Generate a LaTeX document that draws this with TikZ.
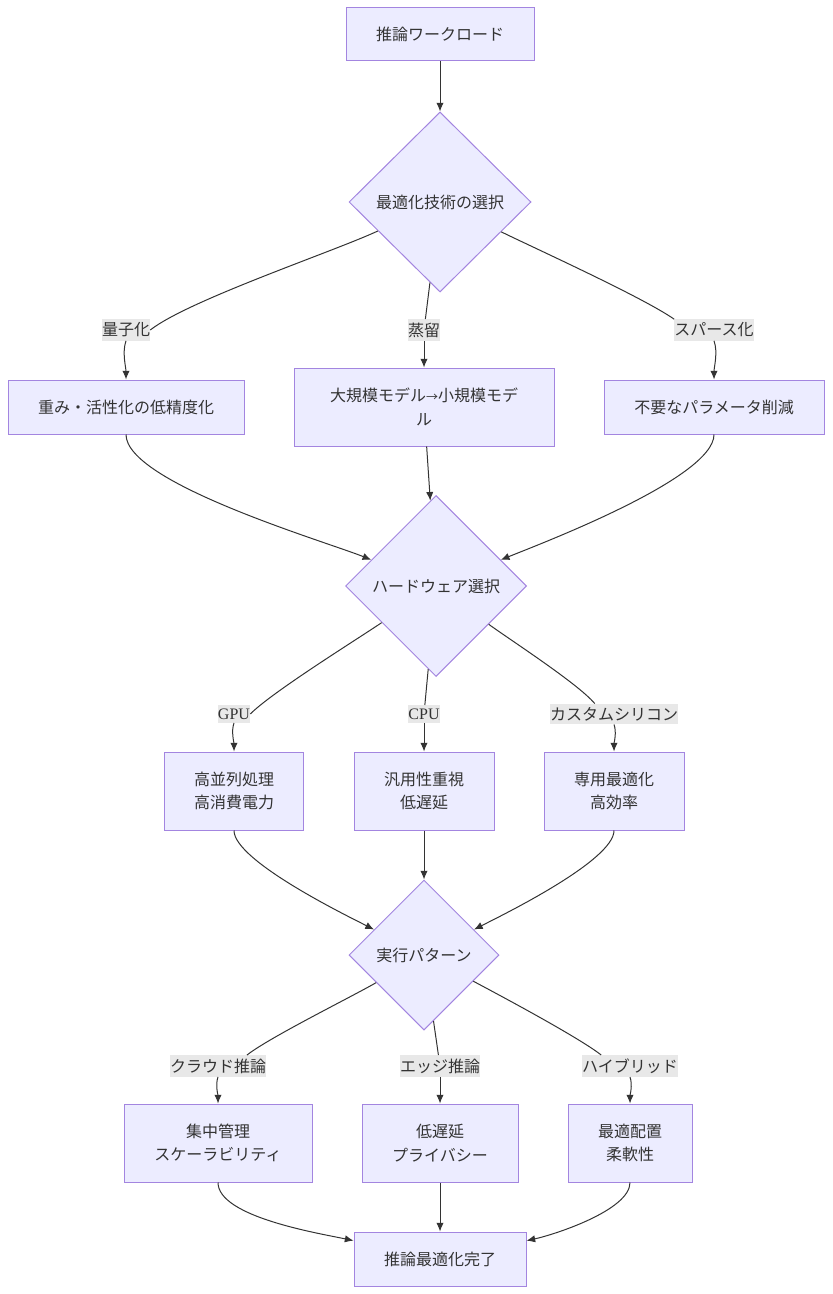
\documentclass[tikz,border=0pt]{standalone}
\usepackage{fontspec}
\setmainfont{Noto Sans CJK JP}
\newfontfamily\latinfont{Liberation Serif}
\usepackage{tikz}
\usetikzlibrary{shapes,shapes.geometric,arrows,arrows.meta,positioning,calc}
\definecolor{mmfill}{HTML}{ECECFF}
\definecolor{mmborder}{HTML}{9370DB}
\definecolor{mmtext}{HTML}{333333}
\definecolor{mmlabel}{HTML}{E8E8E8}
\tikzstyle{block} = [draw=mmborder!85, line width=0.75pt, fill=mmfill, rectangle, inner sep=0pt, minimum height=40.5pt, align=center, text=mmtext, font=\fontsize{12}{17.5}\selectfont]
\tikzstyle{decision} = [draw=mmborder!85, line width=0.75pt, fill=mmfill, diamond, aspect=1, inner sep=0pt, text=mmtext, font=\fontsize{12}{17.5}\selectfont]
\tikzstyle{edgelabel} = [fill=mmlabel, inner xsep=0pt, inner ysep=2.5pt, text=mmtext, font=\fontsize{12}{14}\selectfont]
\tikzstyle{wire} = [draw=mmtext, line width=0.75pt, looseness=0.5, -{Latex[length=6.5pt,width=5.5pt]}]

\begin{document}
\begin{tikzpicture}[x=0.75pt, y=-0.75pt]
    \useasboundingbox (0,0) rectangle (832,1294);
    % Nodes
    \node [block, minimum width=141pt, minimum height=39.75pt] (start) at (440,34.5) {推論ワークロード};
    \node [decision, minimum width=136.5pt, minimum height=135pt] (sel) at (440,202) {最適化技術の選択};
    \node [block, minimum width=195pt, minimum height=58.5pt] (dbox) at (424,407) {大規模モデル{\fontsize{9}{9}\selectfont→}小規模モデ\\ル};
    \node [block, minimum width=177pt, left of=dbox, node distance=223.5pt] (qbox) {重み・活性化の低精度化};
    \node [block, minimum width=165pt, right of=dbox, node distance=217.5pt] (sbox) {不要なパラメータ削減};
    \node [decision, minimum width=135.75pt, minimum height=135.75pt] (hw) at (436,586) {ハードウェア選択};
    \node [block, minimum width=105pt, minimum height=58.5pt] (cbox) at (424,791) {汎用性重視\\低遅延};
    \node [block, minimum width=104.25pt, minimum height=58.5pt, left of=cbox, node distance=142.5pt] (gbox) {高並列処理\\高消費電力};
    \node [block, minimum width=105pt, minimum height=58.5pt, right of=cbox, node distance=142.5pt] (sibox) {専用最適化\\高効率};
    \node [decision, minimum width=112.5pt, minimum height=112.5pt] (ex) at (424,955) {実行パターン};
    \node [block, minimum width=117pt, minimum height=58.5pt] (edbox) at (440,1143) {低遅延\\プライバシー};
    \node [block, minimum width=141pt, minimum height=58.5pt, left of=edbox, node distance=166.5pt] (clbox) {集中管理\\スケーラビリティ};
    \node [block, minimum width=93pt, minimum height=58.5pt, right of=edbox, node distance=142.5pt] (hybox) {最適配置\\柔軟性};
    \node [block, minimum width=129pt] (done) at (440,1259) {推論最適化完了};

    % Edge labels
    \node [edgelabel] (lq) at (126,330) {量子化};
    \node [edgelabel] (ld) at (424,330) {蒸留};
    \node [edgelabel] (ls) at (714,330) {スパース化};
    \node [edgelabel] (lg) at (234,714) {\latinfont GPU};
    \node [edgelabel] (lc) at (424,714) {\latinfont CPU};
    \node [edgelabel] (lsi) at (614,714) {カスタムシリコン};
    \node [edgelabel] (lcl) at (218,1066) {クラウド推論};
    \node [edgelabel] (led) at (440,1066) {エッジ推論};
    \node [edgelabel] (lhy) at (630,1066) {ハイブリッド};

    % Connections
    \draw [wire] (start) -- (sel);
    \draw [wire, -] (sel) to[out=205, in=38] (lq.east);
    \draw [wire, looseness=0.8] (lq.south) to[out=-110, in=90] (qbox);
    \draw [wire, -] (sel) -- (ld);
    \draw [wire] (ld) -- (dbox);
    \draw [wire, -] (sel) to[out=-26, in=145] (ls.north west);
    \draw [wire, looseness=0.8] (ls.south) to[out=-70, in=90] (sbox);

    \draw [wire, looseness=0.45] (qbox) to[out=-90, in=158] (hw);
    \draw [wire] (dbox) -- (hw);
    \draw [wire, looseness=0.45] (sbox) to[out=-90, in=22] (hw);

    \draw [wire, -] (hw) to[out=214, in=45] (lg.east);
    \draw [wire, looseness=0.8] (lg.south) to[out=-110, in=90] (gbox);
    \draw [wire, -] (hw) -- (lc);
    \draw [wire] (lc) -- (cbox);
    \draw [wire, -] (hw) to[out=-36, in=130] ($(lsi.north west)!0.35!(lsi.north east)$);
    \draw [wire, looseness=0.8] (lsi.south) to[out=-70, in=90] (sibox);

    \draw [wire, looseness=0.45] (gbox) to[out=-90, in=153] (ex);
    \draw [wire] (cbox) -- (ex);
    \draw [wire, looseness=0.45] (sibox) to[out=-90, in=27] (ex);

    \draw [wire, -] (ex) to[out=210, in=38] ($(lcl.north west)!0.8!(lcl.north east)$);
    \draw [wire, looseness=0.8] (lcl.south) to[out=-110, in=90] (clbox);
    \draw [wire, -] (ex) -- (led);
    \draw [wire] (led) -- (edbox);
    \draw [wire, -] (ex) to[out=-28, in=142] ($(lhy.north west)!0.2!(lhy.north east)$);
    \draw [wire, looseness=0.8] (lhy.south) to[out=-70, in=90] (hybox);

    \draw [wire, looseness=0.6] (clbox) to[out=-90, in=168] (done);
    \draw [wire] (edbox) -- (done);
    \draw [wire, looseness=0.6] (hybox) to[out=-90, in=12] (done);
\end{tikzpicture}
\end{document}
